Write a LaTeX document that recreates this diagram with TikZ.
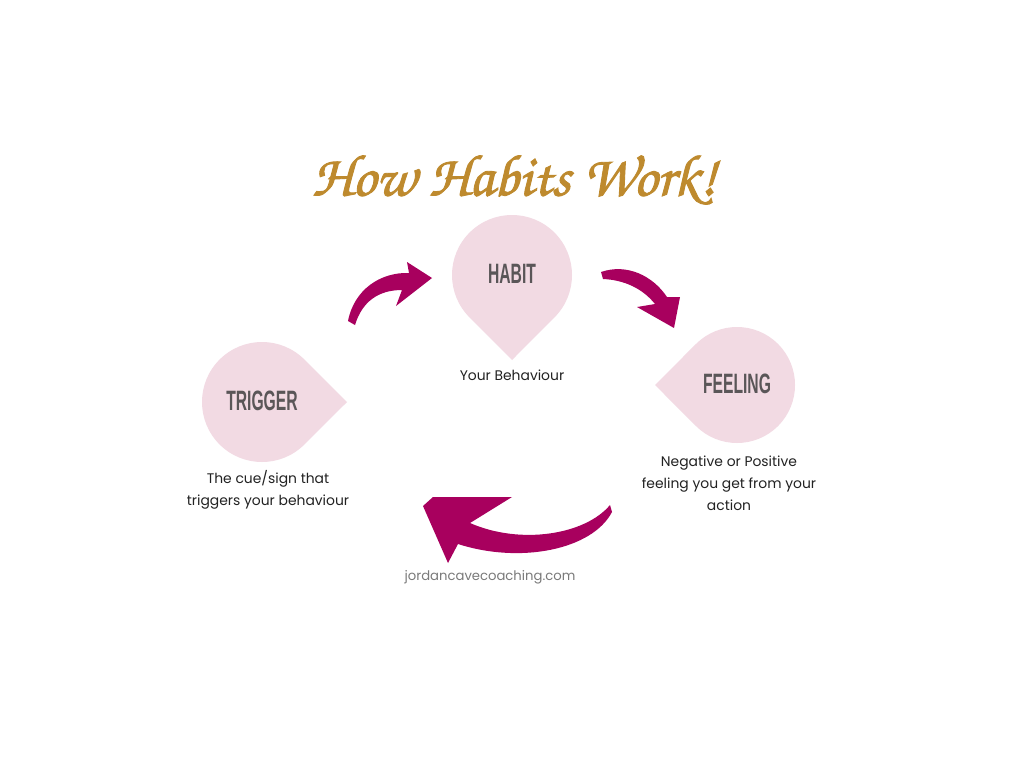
\documentclass[tikz,border=0pt]{standalone}
\usepackage{fontspec}
\usetikzlibrary{calc}
\setmainfont{Poppins}
\newfontfamily\headfont[FakeStretch=0.56]{Liberation Sans}
\newfontfamily\titlefont[FakeBold=1.5]{TeX Gyre Chorus}
\definecolor{pinkfill}{HTML}{F2DAE3}
\definecolor{headgray}{HTML}{5A5658}
\definecolor{magenta}{HTML}{A8005E}
\definecolor{gold}{HTML}{BE8A2E}
\definecolor{bodytext}{HTML}{222222}
\definecolor{urlgray}{HTML}{7A7A7A}
\tikzset{
  drop/.style={fill=pinkfill, draw=none},
  headlabel/.style={font=\headfont\bfseries\fontsize{28}{30}\selectfont, text=headgray, inner sep=0pt},
  bodylabel/.style={font=\fontsize{13.9}{22}\selectfont, text=bodytext, align=center, inner sep=0pt},
  brush/.style={fill=magenta, draw=none}
}
\begin{document}
\begin{tikzpicture}[x=1pt,y=-1pt]
\path[use as bounding box, fill=white] (0,0) rectangle (1024,768);

% title
\node[font=\titlefont\fontsize{59}{64}\selectfont, text=gold, inner sep=0pt] (title) at (514,180) {How Habits Work!};

% teardrops
\coordinate (hc) at (512,275);
\coordinate (tc) at (262,402);
\coordinate (fc) at (737,385);
\fill[drop] (512,360) -- ($(hc)+(45:60)$) arc[start angle=45, end angle=-225, radius=60] -- cycle;
\fill[drop] (347,402) -- ($(tc)+(45:60)$) arc[start angle=45, end angle=315, radius=60] -- cycle;
\fill[drop] (655,385) -- ($(fc)+(225:58)$) arc[start angle=225, end angle=495, radius=58] -- cycle;

\node[headlabel] (habit) at (512,274) {HABIT};
\node[headlabel] (trigger) at (262,401) {TRIGGER};
\node[headlabel] (feeling) at (737,384) {FEELING};

\node[bodylabel] (habitdesc) at (512,375) {Your Behaviour};
\node[bodylabel] (triggerdesc) at (268,490) {The cue/sign that\\triggers your behaviour};
\node[bodylabel] (feelingdesc) at (729,483) {Negative or Positive\\feeling you get from your\\action};

\node[font=\fontsize{13.2}{14}\selectfont, text=urlgray, inner sep=0pt] (url) at (490,577) {jordancavecoaching.com};

% brush arrows
\fill[brush] (348,321) .. controls (354,290) and (380,272) .. (409,273)
  -- (407,262) -- (432,278) -- (396,306) -- (402,290)
  .. controls (378,290) and (362,302) .. (355,325) -- cycle;

\fill[brush] (601,272) .. controls (627,263) and (653,276) .. (667,297)
  -- (680,297) -- (674,328) -- (637,307) -- (655,304)
  .. controls (643,289) and (625,280) .. (603,279) -- cycle;

\fill[brush] (610,505) .. controls (585,535) and (520,545) .. (470,523)
  -- (512,497) -- (433,497) -- (423,506) -- (448,563) -- (458,544)
  .. controls (520,564) and (592,550) .. (612,512) -- cycle;
\end{tikzpicture}
\end{document}
